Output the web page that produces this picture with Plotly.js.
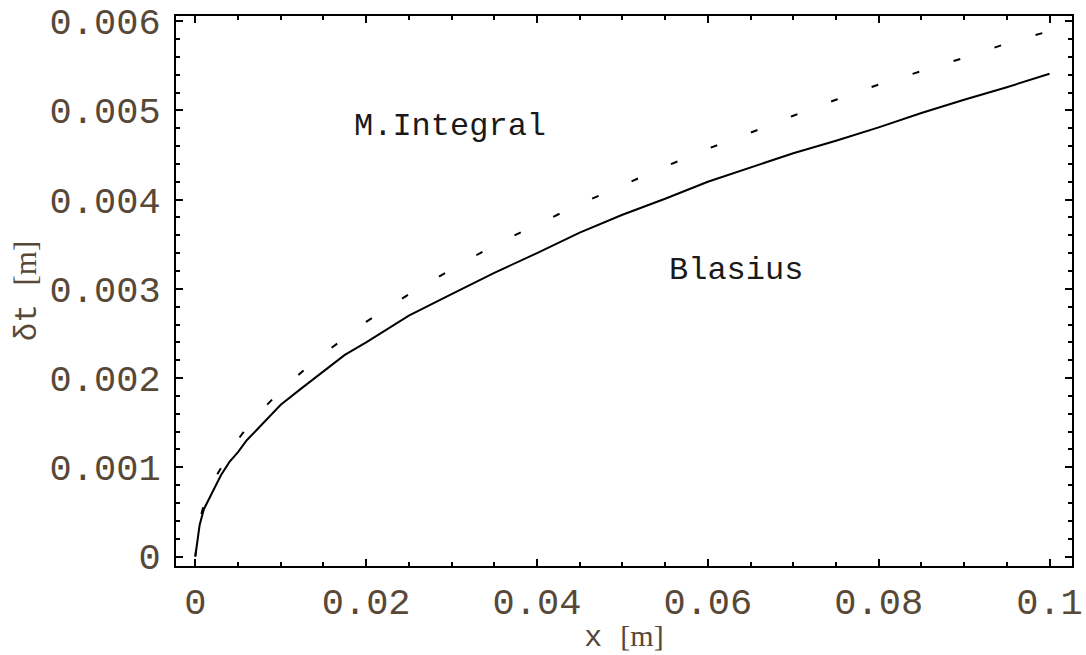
<!DOCTYPE html>
<html>
<head>
<meta charset="utf-8">
<script src="https://cdn.plot.ly/plotly-3.0.1.min.js"></script>
<style>
  html, body { margin: 0; padding: 0; background: #ffffff; }
  #chart { width: 1086px; height: 655px; }
</style>
</head>
<body>
<div id="chart"></div>
<script>
// x positions along the plate [m]
const xVals = [0, 0.0005, 0.001, 0.002, 0.003, 0.004, 0.005, 0.006, 0.008, 0.01,
  0.0125, 0.015, 0.0175, 0.02, 0.025, 0.03, 0.035, 0.04, 0.045, 0.05,
  0.055, 0.06, 0.065, 0.07, 0.075, 0.08, 0.085, 0.09, 0.095, 0.1];
// Blasius thermal boundary-layer thickness [m] (solid)
const blasius = [0, 0.00035, 0.00053, 0.00072, 0.00091, 0.00106, 0.00117, 0.0013, 0.0015, 0.0017,
  0.00189, 0.00208, 0.00226, 0.0024, 0.0027, 0.00294, 0.00318, 0.0034, 0.00363, 0.00383,
  0.00401, 0.0042, 0.00436, 0.00452, 0.00466, 0.00481, 0.00497, 0.00512, 0.00526, 0.00541];
// Momentum-integral thermal boundary-layer thickness [m] (dashed)
const integral = [0, 0.0004, 0.00058, 0.00083, 0.00099, 0.00117, 0.00131, 0.00144, 0.00166, 0.00186,
  0.00207, 0.00227, 0.00245, 0.00263, 0.00294, 0.00322, 0.00349, 0.00372, 0.00395, 0.00416,
  0.00437, 0.00457, 0.00475, 0.00494, 0.00512, 0.00529, 0.00544, 0.00559, 0.00575, 0.00589];

const xTickVals = [0, 0.02, 0.04, 0.06, 0.08, 0.1];
const xTickText = ["0", "0.02", "0.04", "0.06", "0.08", "0.1"];
const yTickVals = [0, 0.001, 0.002, 0.003, 0.004, 0.005, 0.006];
const yTickText = ["0", "0.001", "0.002", "0.003", "0.004", "0.005", "0.006"];

const labelNames = ["M.Integral", "Blasius"];
const labelX = [0.0298, 0.0633];
const labelY = [0.00482, 0.00321];

const MONO = "Liberation Mono, Courier New, monospace";
const TICKCOL = "#574838";

const traces = [
  {
    x: xVals, y: integral, type: "scatter", mode: "lines", name: "M.Integral",
    line: { color: "#000000", width: 2, dash: "7px,36px" }, hoverinfo: "skip"
  },
  {
    x: xVals, y: blasius, type: "scatter", mode: "lines", name: "Blasius",
    line: { color: "#000000", width: 2 }, hoverinfo: "skip"
  }
];

const axisCommon = {
  showline: true, linewidth: 2, linecolor: "#000000", mirror: "allticks",
  ticks: "inside", ticklen: 7, tickwidth: 2, tickcolor: "#000000",
  showgrid: false, zeroline: false,
  tickfont: { family: MONO, size: 37, color: TICKCOL },
  tickmode: "array"
};

const layout = {
  width: 1086, height: 655,
  margin: { l: 176, r: 14, t: 16, b: 89 },
  paper_bgcolor: "#ffffff", plot_bgcolor: "#ffffff",
  showlegend: false,
  xaxis: Object.assign({}, axisCommon, {
    range: [-0.00226, 0.10263],
    tickvals: xTickVals, ticktext: xTickText,
    ticklabelstandoff: 2,
    minor: { dtick: 0.005, ticks: "inside", ticklen: 4, tickwidth: 2, tickcolor: "#000000", showgrid: false },
    title: {
      text: 'x <span style="font-family:Liberation Serif">[m]</span>',
      font: { family: MONO, size: 30, color: TICKCOL },
      standoff: 12
    }
  }),
  yaxis: Object.assign({}, axisCommon, {
    range: [-0.0001065, 0.006058],
    tickvals: yTickVals, ticktext: yTickText,
    ticklabelstandoff: 6,
    minor: { dtick: 0.0002, ticks: "inside", ticklen: 4, tickwidth: 2, tickcolor: "#000000", showgrid: false },
    title: {
      text: 'δt <span style="font-family:Liberation Serif">[m]</span>',
      font: { family: MONO, size: 31, color: TICKCOL },
      standoff: 4
    }
  }),
  annotations: labelNames.map((t, i) => ({
    x: labelX[i], y: labelY[i], xref: "x", yref: "y",
    text: t, showarrow: false,
    font: { family: MONO, size: 32, color: "#1a1a1a" },
    xanchor: "center", yanchor: "middle"
  }))
};

Plotly.newPlot("chart", traces, layout, { staticPlot: true, displayModeBar: false });
</script>
</body>
</html>
